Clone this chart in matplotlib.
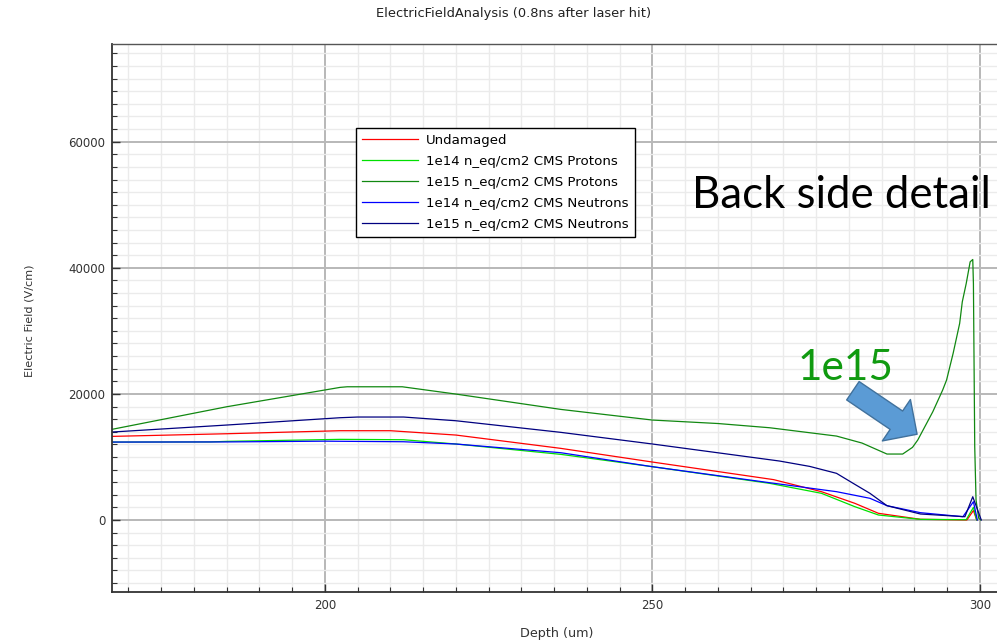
import numpy as np
import matplotlib.pyplot as plt
from matplotlib.patches import FancyArrowPatch
from matplotlib.ticker import MultipleLocator

plt.rcParams['font.family'] = ['DejaVu Sans']

# electric field profiles near the back side, depth in um, field in V/cm
depth_undamaged = [167.5, 185, 202.3, 210, 220, 236, 250, 268.5, 275.8, 280.9, 284.5, 290.9, 298, 299, 299.5]
field_undamaged = [13260, 13680, 14160, 14160, 13470, 11360, 9190, 6400, 4490, 2640, 1060, 110, 0, 1500, 0]

depth_p14 = [167.5, 182.5, 185, 202.3, 212, 220, 236, 250, 267.9, 275.8, 280.9, 284.5, 290.9, 297.9, 299.0, 299.5]
field_p14 = [12360, 12380, 12470, 12790, 12730, 12050, 10410, 8450, 5810, 4230, 2110, 790, 100, 50, 2000, 0]

depth_p15 = [167.5, 185, 202.3, 203.4, 211.8, 220, 236, 250, 260, 267.9, 278.1, 282, 285.8, 288.2,
             289.7, 290.5, 292.8, 294.3, 294.9, 295.9, 296.9, 297.3, 297.9, 298.5, 298.9, 299.0,
             299.2, 299.4, 299.8, 300.1]
field_p15 = [14380, 17960, 21030, 21130, 21130, 19970, 17540, 15850, 15300, 14630, 13310, 12200, 10460, 10460,
             11520, 12680, 17170, 20600, 22190, 26420, 31180, 34600, 37510, 40940, 41320, 37510,
             11620, 3170, 300, 0]

depth_n14 = [167.5, 185, 200, 212, 220, 236, 250, 267.9, 278.1, 283.2, 285.8, 290.9, 297.4, 299.0, 299.6]
field_n14 = [12360, 12380, 12500, 12410, 12050, 10670, 8450, 5910, 4490, 3440, 2270, 1160, 520, 2900, 0]

depth_n15 = [167.5, 185, 202.3, 205, 212, 220, 236, 250, 269.4, 274, 278.1, 280.5, 283.2, 285.8, 290.9, 297.7, 298.9, 300.2]
field_n15 = [13950, 15060, 16220, 16330, 16330, 15740, 13900, 12050, 9350, 8500, 7400, 5900, 4230, 2270, 950, 520, 3690, 0]

series = [
    (depth_undamaged, field_undamaged, 'Undamaged', '#ff0000'),
    (depth_p14, field_p14, '1e14 n_eq/cm2 CMS Protons', '#00e000'),
    (depth_p15, field_p15, '1e15 n_eq/cm2 CMS Protons', '#118811'),
    (depth_n14, field_n14, '1e14 n_eq/cm2 CMS Neutrons', '#0000ff'),
    (depth_n15, field_n15, '1e15 n_eq/cm2 CMS Neutrons', '#000080'),
]


def main():
    fig = plt.figure(figsize=(9.97, 6.41), dpi=100)
    ax = fig.add_axes([0.1128, 0.076, 0.8872, 0.8546])

    for x, y, label, color in series:
        ax.plot(x, y, color=color, lw=0.9, label=label)

    ax.set_xlim(167.56, 302.6)
    ax.set_ylim(-11467, 75420)

    ax.xaxis.set_major_locator(MultipleLocator(50))
    ax.xaxis.set_minor_locator(MultipleLocator(5))
    ax.yaxis.set_major_locator(MultipleLocator(20000))
    ax.yaxis.set_minor_locator(MultipleLocator(2000))

    ax.grid(True, which='major', color='#b8b8b8', lw=1.4)
    ax.grid(True, which='minor', color='#ebebeb', lw=1.0)
    ax.set_axisbelow(True)

    ax.tick_params(which='major', direction='in', length=6, width=1.0, color='#333333',
                   labelsize=8.5, labelcolor='#333333', pad=5)
    ax.tick_params(which='minor', direction='in', length=3.5, width=0.8, color='#333333')

    ax.spines['right'].set_visible(False)
    for side in ['left', 'bottom']:
        ax.spines[side].set_color('#333333')
        ax.spines[side].set_linewidth(1.3)
    ax.spines['top'].set_color('#555555')
    ax.spines['top'].set_linewidth(1.0)

    ax.set_xlabel('Depth (um)', fontsize=9.2, color='#333333')
    ax.set_ylabel('Electric Field (V/cm)', fontsize=8.1, color='#333333')
    ax.xaxis.set_label_coords(0.502, -0.063)
    ax.yaxis.set_label_coords(-0.088, 0.495)

    fig.text(514 / 997, 1 - 14 / 641, 'ElectricFieldAnalysis (0.8ns after laser hit)',
             ha='center', va='center', fontsize=9.4, color='#222222')

    leg = ax.legend(loc='upper left', bbox_to_anchor=(0.2753, 0.8476), fontsize=9.6,
                    handlelength=4.2, handletextpad=0.6, labelspacing=0.6,
                    borderpad=0.45, borderaxespad=0, fancybox=False, framealpha=1)
    leg.get_frame().set_edgecolor('black')
    leg.get_frame().set_linewidth(1.0)

    # annotation for the back side peak
    fig.text(841 / 997, 1 - 195 / 641, 'Back side detail', ha='center', va='center',
             fontsize=31.5, family=['Lato', 'DejaVu Sans'], color='black')
    fig.text(846 / 997, 1 - 368 / 641, '1e15', ha='center', va='center',
             fontsize=30.5, family=['Lato', 'DejaVu Sans'], color='#109a10')

    arrow = FancyArrowPatch((280.6, 20500), (290.4, 13600), mutation_scale=1,
                            arrowstyle='simple,head_length=18,head_width=36,tail_width=16',
                            facecolor='#5b9bd5', edgecolor='#41719c', lw=1.0,
                            shrinkA=0, shrinkB=0, zorder=5)
    ax.add_patch(arrow)

    fig.savefig('out.png', dpi=100)
    plt.close(fig)


if __name__ == "__main__":
    main()
